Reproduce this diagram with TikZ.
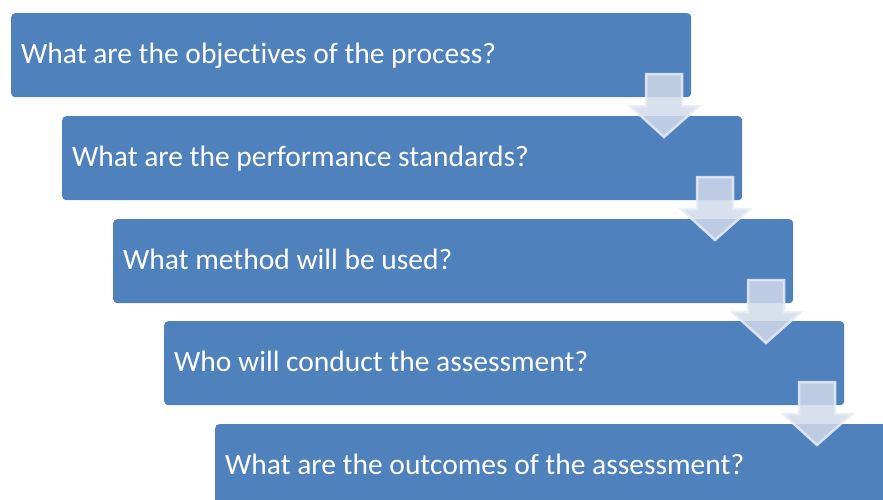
\documentclass[tikz,border=0pt]{standalone}
\usepackage{fontspec}
\setmainfont{Carlito}[Ligatures=NoCommon]
\definecolor{boxblue}{RGB}{79,129,189}
\definecolor{arrfill}{RGB}{210,218,234}
\definecolor{arrdraw}{RGB}{232,236,245}
\begin{document}
\begin{tikzpicture}[x=1pt,y=-1pt,
  stepbox/.style={fill=boxblue, draw=none, rounded corners=4pt, minimum width=680pt, minimum height=84pt, anchor=north west, inner sep=0pt},
  steptext/.style={text=white, font=\fontsize{29.5}{35}\selectfont, anchor=base west, inner sep=0pt},
  blockarrow/.style={fill=arrfill, fill opacity=0.85, draw=arrdraw, draw opacity=0.85, line width=2.5pt, line join=miter}]
\useasboundingbox (0,0) rectangle (883,499);
\clip (0,0) rectangle (883,499);
\node[stepbox] (b1) at (11,13) {};
\node[stepbox] (b2) at (62,116) {};
\node[stepbox] (b3) at (113,219) {};
\node[stepbox] (b4) at (164,321) {};
\node[stepbox] (b5) at (215,424) {};
\node[steptext] (t1) at (21,63) {What are the objectives of the process?};
\node[steptext] (t2) at (72,166) {What are the performance standards?};
\node[steptext] (t3) at (123,269) {What method will be used?};
\node[steptext] (t4) at (174,371) {Who will conduct the assessment?};
\node[steptext] (t5) at (225,474) {What are the outcomes of the assessment?};
\foreach \x/\y in {0/0, 51/103, 102/206, 153/308} {
  \draw[blockarrow] (646+\x,74+\y) -- (682+\x,74+\y) -- (682+\x,106+\y) -- (699+\x,106+\y)
     -- (664+\x,137+\y) -- (630+\x,106+\y) -- (646+\x,106+\y) -- cycle;
}
\end{tikzpicture}
\end{document}
